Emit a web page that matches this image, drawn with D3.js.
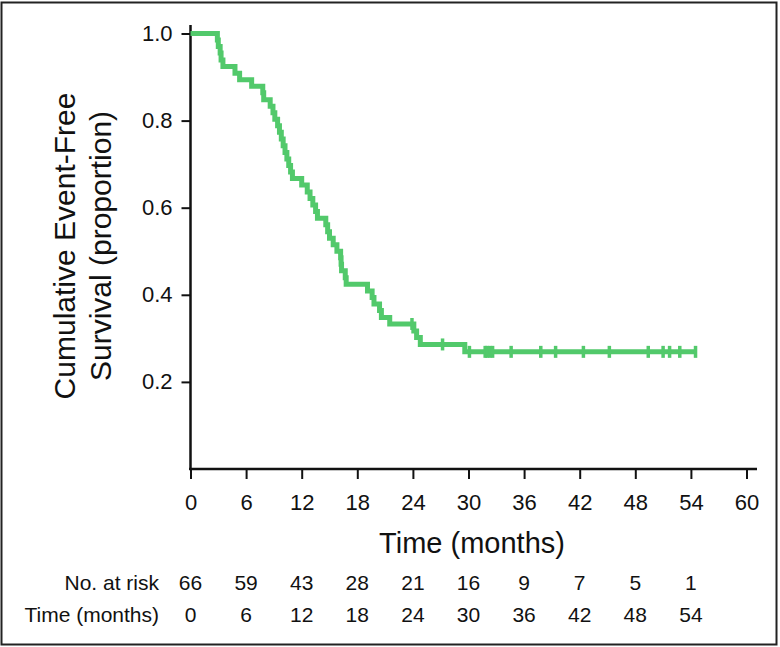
<!DOCTYPE html>
<html>
<head>
<meta charset="utf-8">
<script src="https://cdn.jsdelivr.net/npm/d3@7/dist/d3.min.js"></script>
<style>
  body { margin: 0; background: #fff; }
  text { font-family: "Liberation Sans", Arial, sans-serif; fill: #111; }
</style>
</head>
<body>
<div id="chart"></div>
<script>
// Kaplan-Meier step points: time (months) of each drop and survival after it
var stepTimes = [2.9, 3.0, 3.2, 3.3, 3.5, 4.8, 5.3, 6.6, 7.8, 7.9,
  8.6, 8.9, 9.1, 9.4, 9.6, 9.8, 10.0, 10.2, 10.4, 10.6,
  10.8, 11.0, 12.0, 12.6, 12.9, 13.2, 13.5, 13.7, 14.6, 14.8,
  15.0, 15.4, 15.8, 16.2, 16.25, 16.3, 16.7, 16.8, 19.1, 19.6,
  19.8, 20.4, 20.6, 21.5, 24.1, 24.4, 24.8, 29.6];
var stepSurv = [0.985, 0.970, 0.955, 0.939, 0.924, 0.909, 0.894, 0.879, 0.864, 0.848,
  0.833, 0.818, 0.803, 0.788, 0.773, 0.758, 0.742, 0.727, 0.712, 0.697,
  0.682, 0.667, 0.652, 0.636, 0.621, 0.606, 0.591, 0.576, 0.561, 0.545,
  0.530, 0.515, 0.500, 0.485, 0.470, 0.455, 0.439, 0.424, 0.409, 0.394,
  0.379, 0.364, 0.348, 0.333, 0.317, 0.302, 0.286, 0.269];
var lastTime = 54.6;

// censored observations (tick marks)
var censorTimes = [23.9, 27.2, 30.1, 31.8, 32.0, 32.3, 32.6, 34.6, 37.8, 39.4,
  42.4, 45.2, 49.4, 51.0, 51.7, 52.8, 54.5];

var xTicks = [0, 6, 12, 18, 24, 30, 36, 42, 48, 54, 60];
var yTicks = [0.2, 0.4, 0.6, 0.8, 1.0];

var riskTimes = [0, 6, 12, 18, 24, 30, 36, 42, 48, 54];
var riskCounts = [66, 59, 43, 28, 21, 16, 9, 7, 5, 1];

var svgWidth = 780;
var svgHeight = 647;

var svg = d3.select("#chart")
  .append("svg")
  .attr("width", svgWidth)
  .attr("height", svgHeight);

// frame around the figure
svg.append("rect")
  .attr("x", 1.5)
  .attr("y", 2.5)
  .attr("width", 775)
  .attr("height", 642)
  .attr("fill", "none")
  .attr("stroke", "#222")
  .attr("stroke-width", 2);

var xScale = d3.scaleLinear()
  .domain([0, 60])
  .range([190.5, 746.5]);

var yScale = d3.scaleLinear()
  .domain([0, 1])
  .range([469, 33.5]);

// x axis
var bottomAxis = d3.axisBottom(xScale)
  .tickValues(xTicks)
  .tickFormat(d3.format("d"))
  .tickSize(10)
  .tickPadding(15);

var xAxis = svg.append("g")
  .attr("transform", "translate(0, 469)")
  .call(bottomAxis);
xAxis.select(".domain").remove();
xAxis.selectAll(".tick line").attr("stroke", "#111").attr("stroke-width", 2);
xAxis.selectAll("text")
  .style("font-size", "22px")
  .style("font-family", "\"Liberation Sans\", Arial, sans-serif")
  .attr("fill", "#111");

// y axis
var leftAxis = d3.axisLeft(yScale)
  .tickValues(yTicks)
  .tickFormat(d3.format(".1f"))
  .tickSize(9)
  .tickPadding(9);

var yAxis = svg.append("g")
  .attr("transform", "translate(190.5, 0)")
  .call(leftAxis);
yAxis.select(".domain").remove();
yAxis.selectAll(".tick line").attr("stroke", "#111").attr("stroke-width", 2);
yAxis.selectAll("text")
  .style("font-size", "22px")
  .style("font-family", "\"Liberation Sans\", Arial, sans-serif")
  .attr("fill", "#111");

// axis lines (a bit longer than the tick range)
svg.append("line")
  .attr("x1", 190.5).attr("x2", 190.5)
  .attr("y1", 25).attr("y2", 470)
  .attr("stroke", "#111").attr("stroke-width", 2.5);
svg.append("line")
  .attr("x1", 189).attr("x2", 757)
  .attr("y1", 469).attr("y2", 469)
  .attr("stroke", "#111").attr("stroke-width", 2.5);

// survival curve
var curveData = [[0, 1]];
stepTimes.forEach(function(t, i) {
  curveData.push([t, stepSurv[i]]);
});
curveData.push([lastTime, stepSurv[stepSurv.length - 1]]);

var line = d3.line()
  .x(d => xScale(d[0]))
  .y(d => yScale(d[1]))
  .curve(d3.curveStepAfter);

var green = "#52c96b";

svg.append("path")
  .datum(curveData)
  .attr("d", line)
  .attr("fill", "none")
  .attr("stroke", green)
  .attr("stroke-width", 5);

// survival value at a time, from the step arrays
function survAt(t) {
  var s = 1;
  stepTimes.forEach(function(st, i) {
    if (st <= t) s = stepSurv[i];
  });
  return s;
}

svg.append("g")
  .selectAll("line")
  .data(censorTimes)
  .enter()
  .append("line")
  .attr("x1", d => xScale(d))
  .attr("x2", d => xScale(d))
  .attr("y1", d => yScale(survAt(d)) - 6)
  .attr("y2", d => yScale(survAt(d)) + 6)
  .attr("stroke", green)
  .attr("stroke-width", 3.5);

// axis titles
svg.append("text")
  .attr("x", 472)
  .attr("y", 553)
  .attr("text-anchor", "middle")
  .style("font-size", "29px")
  .text("Time (months)");

var yTitle = svg.append("text")
  .attr("transform", "translate(75, 246) rotate(-90)")
  .attr("text-anchor", "middle")
  .style("font-size", "30px");
yTitle.append("tspan")
  .attr("x", 0)
  .attr("y", 0)
  .text("Cumulative Event-Free");
yTitle.append("tspan")
  .attr("x", 0)
  .attr("y", 36)
  .text("Survival (proportion)");

// number at risk table
svg.append("text")
  .attr("x", 159)
  .attr("y", 590)
  .attr("text-anchor", "end")
  .style("font-size", "21px")
  .text("No. at risk");

svg.append("text")
  .attr("x", 159)
  .attr("y", 622)
  .attr("text-anchor", "end")
  .style("font-size", "21px")
  .text("Time (months)");

svg.append("g")
  .selectAll("text")
  .data(riskCounts)
  .enter()
  .append("text")
  .attr("x", (d, i) => xScale(riskTimes[i]))
  .attr("y", 590)
  .attr("text-anchor", "middle")
  .style("font-size", "21px")
  .text(d => d);

svg.append("g")
  .selectAll("text")
  .data(riskTimes)
  .enter()
  .append("text")
  .attr("x", d => xScale(d))
  .attr("y", 622)
  .attr("text-anchor", "middle")
  .style("font-size", "21px")
  .text(d => d);
</script>
</body>
</html>
